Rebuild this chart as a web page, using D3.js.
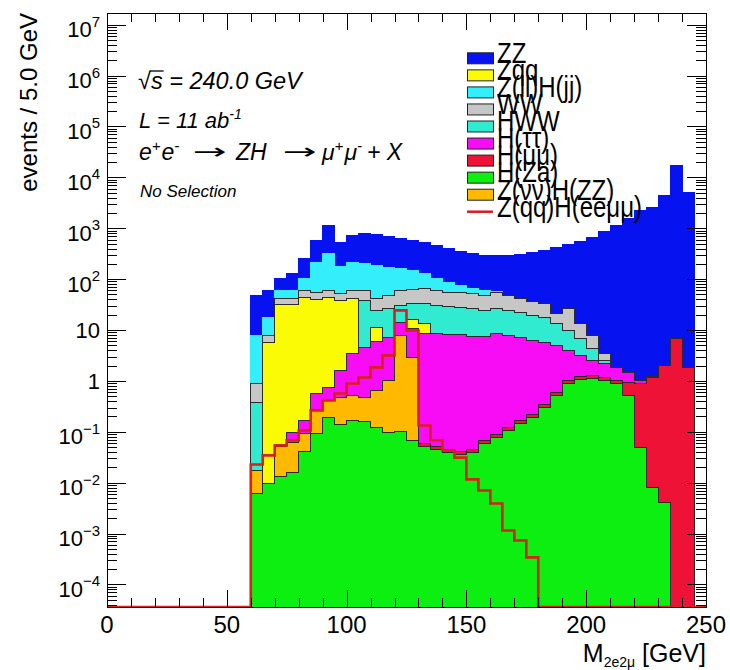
<!DOCTYPE html>
<html>
<head>
<meta charset="utf-8">
<script src="https://cdn.jsdelivr.net/npm/d3@7"></script>
<style>
  body { margin: 0; background: #fff; }
  svg { display: block; font-family: "Liberation Sans", Arial, Helvetica, sans-serif; }
</style>
</head>
<body>
<svg id="chart"></svg>
<script>
// lower edges of the 5 GeV bins that have entries
const binLow = [60, 65, 70, 75, 80, 85, 90, 95, 100, 105, 110, 115, 120, 125, 130, 135, 140, 145, 150, 155,
                160, 165, 170, 175, 180, 185, 190, 195, 200, 205, 210, 215, 220, 225, 230, 235, 240];

// stacked backgrounds, bottom of the stack first
const hZa     = [0.0061, 0.0097, 0.013, 0.016, 0.041, 0.093, 0.19, 0.14, 0.17, 0.16,
                 0.12, 0.097, 0.10, 0.068, 0.052, 0.045, 0.039, 0.036, 0.039, 0.059,
                 0.077, 0.106, 0.146, 0.19, 0.30, 0.52, 0.89, 1.07, 1.12, 1.02,
                 0.89, 0.52, 0.049, 0.008, 0.0041, 0, 0];
const zvvHZZ  = [0.0113, 0, 0.038, 0.046, 0.052, 0.17, 0.22, 0.33, 0.35, 0.31,
                 0.53, 0.92, 7.7, 2.8, 0, 0, 0, 0, 0, 0,
                 0, 0, 0, 0, 0, 0, 0, 0, 0, 0,
                 0, 0, 0, 0, 0, 0, 0];
const hMuMu   = [0, 0, 0, 0, 0, 0, 0, 0, 0, 0,
                 0, 0, 0, 0, 0.0075, 0.0065, 0.006, 0.005, 0.006, 0.009,
                 0.011, 0.016, 0.021, 0.028, 0.044, 0.075, 0.13, 0.16, 0.16, 0.15,
                 0.13, 0.41, 0.84, 1.16, 2.0, 6.8, 1.84];
const hTauTau = [0, 0, 0, 0.035, 0.074, 0.30, 0.33, 1.14, 2.95, 4.1,
                 5.3, 6.1, 6.3, 7.8, 8.5, 8.5, 8.15, 8.15, 7.4, 7.4,
                 8.5, 7.7, 7.0, 6.0, 5.4, 4.4, 2.95, 1.95, 1.24, 1.03,
                 0.82, 0.53, 0.13, 0.05, 0, 0, 0];
const zqq     = [0, 5.7, 31.7, 31.7, 43.5, 39.3, 43, 36.5, 38.3, 0,
                 5.3, 0, 0, 5.4, 4.9, 0, 0, 0, 0, 0,
                 0, 0, 0, 0, 0, 0, 0, 0, 0, 0,
                 0, 0, 0, 0, 0, 0, 0];
const hWW     = [0.36, 0, 0, 0, 0, 0, 0, 0, 0, 33.5,
                 13, 19.5, 16.3, 17, 19.8, 21.8, 20.9, 19.6, 19.1, 16.8,
                 18, 16.5, 15, 13.1, 12, 8.5, 5.8, 3.7, 1.8, 0.32,
                 0, 0, 0, 0, 0, 0, 0];
const ww      = [0.51, 2.1, 10, 10, 16, 15, 16, 14, 18, 22,
                 17.5, 21, 29.6, 29.5, 32.4, 29.6, 25.7, 27, 25.8, 23.5,
                 28.2, 23.5, 19.6, 17.2, 15.6, 7.7, 16.8, 6.7, 3.5, 0.95,
                 0, 0, 0, 0, 0, 0, 0];
const zllHjj  = [6.9, 9.9, 18, 18, 43, 158, 260, 126, 153, 143,
                 144, 122, 102, 85, 63, 43, 31, 20, 13, 12,
                 2.5, 0, 0, 0, 0, 0, 0, 0, 0, 0,
                 0, 0, 0, 0, 0, 0, 0];
const zz      = [40, 42, 43, 69, 152, 363, 816, 348, 509, 588,
                 570, 521, 469, 428, 397, 357, 315, 275, 254, 232,
                 235, 244, 264, 298, 333, 399, 454, 537, 652, 863,
                 1134, 1558, 2239, 2565, 4414, 17163, 5056];

// signal drawn as a line on top
const zqqHeemm = [0.0228, 0.0343, 0.054, 0.068, 0.106, 0.263, 0.413, 0.567, 0.89, 1.17,
                  1.84, 3.17, 24.3, 9.8, 0.133, 0.068, 0.043, 0.031, 0.0116, 0.0070,
                  0.0039, 0.00115, 0.00073, 0.00034, 0, 0, 0, 0, 0, 0,
                  0, 0, 0, 0, 0, 0, 0];

const stackKeys = ["hZa", "zvvHZZ", "hMuMu", "hTauTau", "zqq", "hWW", "ww", "zllHjj", "zz"];
const seriesValues = { hZa, zvvHZZ, hMuMu, hTauTau, zqq, hWW, ww, zllHjj, zz };
const seriesColor = {
  zz: "#0612ef", zqq: "#fbfb05", zllHjj: "#34eefc", ww: "#c6c6c6", hWW: "#30ebcf",
  hTauTau: "#f80cf6", hMuMu: "#ee1237", hZa: "#0cef10", zvvHZZ: "#ffba00"
};
const noOutline = { zz: true, zllHjj: true };

// legend, in the order shown
const legendKeys   = ["zz", "zqq", "zllHjj", "ww", "hWW", "hTauTau", "hMuMu", "hZa", "zvvHZZ", "zqqHeemm"];
const legendLabels = ["ZZ", "Zqq", "Z(ll)H(jj)", "WW", "HWW", "H(\u03c4\u03c4)", "H(\u03bc\u03bc)", "H(Za)",
                      "Z(\u03bd\u03bd)H(ZZ)", "Z(qq)H(ee\u03bc\u03bc)"];

const xTickLabels = [0, 50, 100, 150, 200, 250];

const width = 730, height = 670;
const frame = { left: 107, right: 706, top: 13, bottom: 607 };
const yMin = 3.6e-5, yMax = 1.7e7;
const binWidth = 5;

const svg = d3.select("#chart").attr("width", width).attr("height", height);

const x = d3.scaleLinear().domain([0, 250]).range([frame.left, frame.right]);
const y = d3.scaleLog().domain([yMin, yMax]).range([frame.bottom, frame.top]).clamp(true);
const yv = v => y(Math.max(v, yMin));

svg.append("defs").append("clipPath").attr("id", "clip")
  .append("rect")
  .attr("x", frame.left).attr("y", frame.top)
  .attr("width", frame.right - frame.left).attr("height", frame.bottom - frame.top);

// build table and stack
const table = binLow.map((lo, i) => {
  const row = { lo };
  stackKeys.forEach(k => row[k] = seriesValues[k][i]);
  return row;
});
const stacked = d3.stack().keys(stackKeys)(table);

const plot = svg.append("g").attr("clip-path", "url(#clip)");

const area = d3.area()
  .x(d => x(d[0]))
  .y0(frame.bottom)
  .y1(d => yv(d[1]))
  .curve(d3.curveStepAfter);

// like ROOT: draw cumulative histograms from the top of the stack down
stacked.slice().reverse().forEach(layer => {
  const pts = layer.map((d, i) => [binLow[i], d[1]]);
  pts.push([binLow[binLow.length - 1] + binWidth, layer[layer.length - 1][1]]);
  plot.append("path")
    .attr("d", area(pts))
    .attr("fill", seriesColor[layer.key])
    .attr("stroke", noOutline[layer.key] ? seriesColor[layer.key] : "#2b2b2b")
    .attr("stroke-width", 1)
    .attr("shape-rendering", "crispEdges");
});

// signal line
const sigPts = [[0, 0]].concat(binLow.map((lo, i) => [lo, zqqHeemm[i]]));
sigPts.push([binLow[binLow.length - 1] + binWidth, 0]);
sigPts.push([250, 0]);
plot.append("path")
  .attr("d", d3.line().x(d => x(d[0])).y(d => yv(d[1])).curve(d3.curveStepAfter)(sigPts))
  .attr("fill", "none")
  .attr("stroke", "#d8201c")
  .attr("stroke-width", 2.6);

// axes: ticks inside the frame on all four sides
const axes = svg.append("g").attr("stroke", "#000").attr("stroke-width", 1);
x.ticks(25).forEach(v => {
  const len = v % 50 === 0 ? 17 : 9;
  const px = Math.round(x(v)) + 0.5;
  axes.append("line").attr("x1", px).attr("x2", px).attr("y1", frame.bottom).attr("y2", frame.bottom - len);
  axes.append("line").attr("x1", px).attr("x2", px).attr("y1", frame.top).attr("y2", frame.top + len);
});
y.ticks(20).forEach(v => {
  const e = Math.log10(v);
  const major = Math.abs(e - Math.round(e)) < 1e-9;
  const len = major ? 19 : 10;
  const py = Math.round(y(v)) + 0.5;
  axes.append("line").attr("x1", frame.left).attr("x2", frame.left + len).attr("y1", py).attr("y2", py);
  axes.append("line").attr("x1", frame.right).attr("x2", frame.right - len).attr("y1", py).attr("y2", py);
});

svg.append("rect")
  .attr("x", frame.left + 0.5).attr("y", frame.top + 0.5)
  .attr("width", frame.right - frame.left).attr("height", frame.bottom - frame.top)
  .attr("fill", "none").attr("stroke", "#000");

// x tick labels
svg.selectAll(".xl").data(xTickLabels).enter().append("text")
  .attr("x", d => x(d)).attr("y", 633)
  .attr("text-anchor", "middle")
  .style("font-size", "24px")
  .text(d => d);

// y tick labels (decades)
y.ticks(20).filter(v => Math.abs(Math.log10(v) - Math.round(Math.log10(v))) < 1e-9).forEach(v => {
  const e = Math.round(Math.log10(v));
  const t = svg.append("text").attr("x", 100).attr("text-anchor", "end").style("font-size", "22px");
  if (e === 0 || e === 1) {
    t.attr("y", y(v) + 8).text(e === 0 ? "1" : "10");
  } else {
    t.attr("y", y(v) + 12.5);
    t.append("tspan").text("10");
    t.append("tspan").attr("dy", -10.5).style("font-size", "15px").text(e < 0 ? "\u2212" + (-e) : e);
  }
});

// axis titles
svg.append("text")
  .attr("transform", `translate(37,${frame.top}) rotate(-90)`)
  .attr("text-anchor", "end")
  .style("font-size", "24px")
  .text("events / 5.0 GeV");

const xt = svg.append("text").attr("x", frame.right).attr("y", 662)
  .attr("text-anchor", "end").style("font-size", "25px");
xt.append("tspan").text("M");
xt.append("tspan").attr("dy", 5).style("font-size", "14px").text("2e2\u03bc");
xt.append("tspan").attr("dy", -5).text(" [GeV]");

// labels in the upper left
const info = svg.append("g").style("font-style", "italic");
const sq = info.append("text").attr("x", 138).attr("y", 89).style("font-size", "23.5px");
sq.append("tspan").style("font-style", "normal").text("\u221a");
sq.append("tspan").text("s = 240.0 GeV");
const sExt = sq.node().getExtentOfChar(1);
info.append("line")
  .attr("x1", sExt.x - 1).attr("x2", sExt.x + sExt.width + 1)
  .attr("y1", sExt.y + 3).attr("y2", sExt.y + 3)
  .attr("stroke", "#000").attr("stroke-width", 1.3);

const lum = info.append("text").attr("x", 139).attr("y", 128).style("font-size", "22px");
lum.append("tspan").text("L = 11 ab");
lum.append("tspan").attr("dy", -9).style("font-size", "14px").text("-1");

// process line, pieces placed one after another like the TLatex output
const procY = 160;
function pieces(startX, parts) {
  let cx = startX;
  parts.forEach(([txt, size, dy]) => {
    const t = info.append("text").attr("x", cx).attr("y", procY + dy)
      .style("font-size", size + "px").text(txt);
    cx += t.node().getComputedTextLength() + (dy ? 1 : 0);
  });
  return cx;
}
function arrow(px, len) {
  const a = info.append("text").style("font-style", "normal")
    .style("font-family", "'DejaVu Sans'").style("font-size", "22px").text("\u2192");
  const w = a.node().getComputedTextLength();
  a.attr("transform", `translate(${px},${procY - 1}) scale(${len / w},1)`);
}
pieces(139, [["e", 23, 0], ["+", 15, -9], ["e", 23, 0], ["-", 15, -9]]);
arrow(193, 34);
pieces(236, [["ZH", 23, 0]]);
arrow(283, 34);
const muEnd = pieces(322, [["\u03bc", 23, 0], ["+", 15, -9], ["\u03bc", 23, 0], ["-", 15, -9]]);
info.append("text").attr("x", muEnd + 4).attr("y", procY)
  .style("font-size", "23px").text("+ X");

info.append("text").attr("x", 140).attr("y", 197).style("font-size", "17px").text("No Selection");

// legend
const legend = svg.append("g");
legendKeys.forEach((k, i) => {
  const cy = 58.3 + i * 17.05;
  if (k === "zqqHeemm") {
    legend.append("line").attr("x1", 467).attr("x2", 493).attr("y1", cy).attr("y2", cy)
      .attr("stroke", "#d8201c").attr("stroke-width", 2.6);
  } else {
    legend.append("rect").attr("x", 467.5).attr("y", cy - 5.5).attr("width", 26).attr("height", 11)
      .attr("fill", seriesColor[k]).attr("stroke", "#222").attr("stroke-width", 1);
  }
  legend.append("text")
    .attr("transform", `translate(497,${cy + 4.8}) scale(1,1.2)`)
    .style("font-size", "24px")
    .text(legendLabels[i]);
});
</script>
</body>
</html>
